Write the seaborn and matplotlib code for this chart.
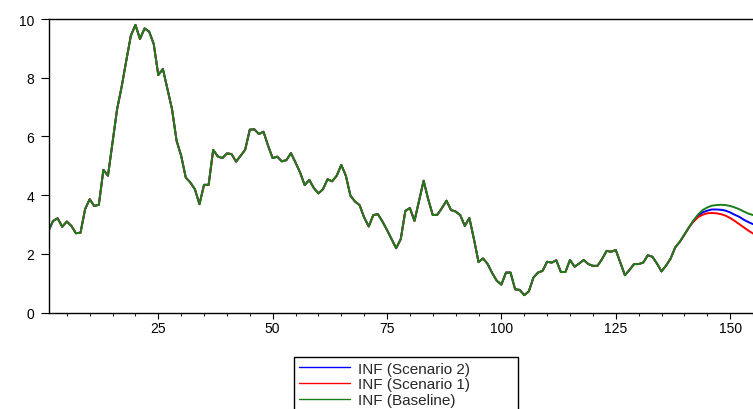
import numpy as np
import pandas as pd
import seaborn as sns
import matplotlib
matplotlib.use("Agg")
import matplotlib.pyplot as plt
from matplotlib.ticker import MultipleLocator, FixedLocator

# Observed inflation, periods 1..140
history = [
    2.78, 3.12, 3.21, 2.92, 3.10, 2.95, 2.70, 2.72, 3.52, 3.86,
    3.63, 3.67, 4.86, 4.66, 5.80, 6.93, 7.70, 8.58, 9.43, 9.80,
    9.32, 9.68, 9.57, 9.15, 8.09, 8.30, 7.61, 6.93, 5.85, 5.34,
    4.60, 4.43, 4.20, 3.69, 4.35, 4.35, 5.54, 5.32, 5.26, 5.42,
    5.40, 5.14, 5.34, 5.55, 6.23, 6.24, 6.08, 6.16, 5.68, 5.26,
    5.31, 5.15, 5.19, 5.43, 5.11, 4.77, 4.34, 4.52, 4.24, 4.06,
    4.20, 4.54, 4.47, 4.66, 5.03, 4.66, 3.98, 3.78, 3.66, 3.24,
    2.93, 3.32, 3.35, 3.10, 2.81, 2.50, 2.19, 2.50, 3.46, 3.56,
    3.12, 3.81, 4.49, 3.86, 3.32, 3.33, 3.56, 3.81, 3.49, 3.44,
    3.32, 2.95, 3.22, 2.50, 1.72, 1.84, 1.65, 1.34, 1.08, 0.95,
    1.36, 1.36, 0.79, 0.77, 0.59, 0.72, 1.19, 1.36, 1.42, 1.73,
    1.70, 1.78, 1.38, 1.38, 1.79, 1.56, 1.67, 1.79, 1.65, 1.59,
    1.59, 1.82, 2.10, 2.07, 2.13, 1.70, 1.27, 1.45, 1.65, 1.65,
    1.70, 1.95, 1.90, 1.67, 1.40, 1.60, 1.84, 2.22, 2.41, 2.65,
]

# Forecast paths, periods 141..155
baseline = [2.90, 3.14, 3.34, 3.49, 3.58, 3.64, 3.66, 3.67, 3.66, 3.63,
            3.58, 3.52, 3.44, 3.37, 3.32]
scenario2 = [2.90, 3.12, 3.30, 3.41, 3.47, 3.51, 3.51, 3.50, 3.47, 3.41,
             3.33, 3.26, 3.16, 3.08, 3.01]
scenario1 = [2.90, 3.10, 3.25, 3.33, 3.38, 3.39, 3.38, 3.35, 3.30, 3.22,
             3.12, 3.01, 2.90, 2.79, 2.69]

series_names = ["INF (Scenario 2)", "INF (Scenario 1)", "INF (Baseline)"]
series_paths = [scenario2, scenario1, baseline]
series_colors = ["#0000ff", "#ff0000", "#1a7f1a"]

frames = []
for name, path in zip(series_names, series_paths):
    vals = history + path
    frames.append(pd.DataFrame({
        "period": np.arange(1, len(vals) + 1),
        "value": vals,
        "series": name,
    }))
df = pd.concat(frames, ignore_index=True)

sns.set_style("ticks")
plt.rcParams["font.family"] = ["Liberation Sans", "DejaVu Sans"]

fig = plt.figure(figsize=(7.53, 4.10), dpi=100)
ax = fig.add_axes([48.5 / 753, 1 - 313.5 / 410, 1 - 48.5 / 753, (313.5 - 20) / 410])

sns.lineplot(
    data=df, x="period", y="value", hue="series",
    hue_order=series_names, palette=dict(zip(series_names, series_colors)),
    linewidth=1.4, ax=ax, legend=True,
)

ax.set_xlim(1, 155)
ax.set_ylim(0, 10)
ax.set_xlabel("")
ax.set_ylabel("")

ax.xaxis.set_major_locator(FixedLocator([25, 50, 75, 100, 125, 150]))
ax.xaxis.set_minor_locator(MultipleLocator(5))
ax.yaxis.set_major_locator(MultipleLocator(2))

ax.tick_params(axis="x", which="major", direction="out", length=4.3, width=0.8,
               pad=2.0, labelsize=10, colors="black")
ax.tick_params(axis="x", which="minor", direction="out", length=2.5, width=0.8)
ax.tick_params(axis="y", which="major", direction="out", length=5.8, width=0.8,
               pad=4.5, labelsize=10, colors="black")

for side in ["left", "bottom", "top"]:
    ax.spines[side].set_visible(True)
    ax.spines[side].set_color("black")
    ax.spines[side].set_linewidth(1.0)
ax.spines["right"].set_visible(False)

handles, labels = ax.get_legend_handles_labels()
ax.get_legend().remove()
for h in handles:
    h.set_linewidth(1.0)
box_left = 293.5 / 753
box_width = (517.5 - 293.5) / 753
box_top = 1 - 357.5 / 410
leg = fig.legend(
    handles, labels, loc="upper left", mode="expand",
    bbox_to_anchor=(box_left, box_top - 0.2, box_width, 0.2),
    bbox_transform=fig.transFigure,
    frameon=True, fancybox=False, edgecolor="black", framealpha=1,
    fontsize=11, handlelength=3.4, handletextpad=0.5, labelspacing=0.12,
    borderpad=0.33, borderaxespad=0,
)
leg.get_frame().set_linewidth(1.0)

fig.savefig("out.png", dpi=100)
